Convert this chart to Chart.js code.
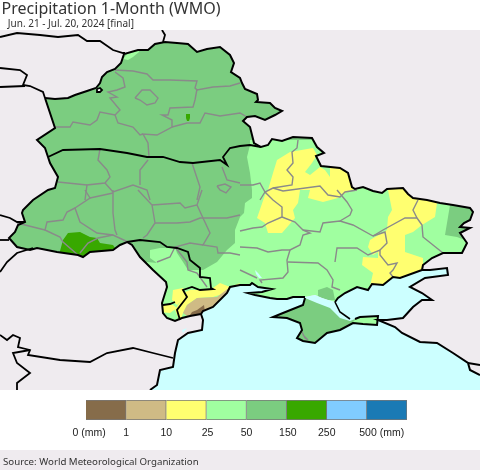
<!DOCTYPE html>
<html lang="en">
<head>
  <meta charset="UTF-8">
  <title>Precipitation 1-Month (WMO)</title>
  <script src="https://cdn.jsdelivr.net/npm/chart.js"></script>
  <style>
    html, body { margin: 0; background: #fff; }
    #page { position: relative; width: 480px; height: 470px; overflow: hidden; }
    #page canvas { position: absolute; left: 0; }
    #mapChart { top: 0; }
    #scaleChart { top: 390px; }
    #footerStrip { position: absolute; left: 0; top: 450px; width: 480px; height: 20px; background: #efebef; }
  </style>
</head>
<body>
<div id="page">
  <div id="footerStrip"></div>
  <canvas id="mapChart" width="480" height="390"></canvas>
  <canvas id="scaleChart" width="480" height="80"></canvas>
</div>

<script>
  // colour classes and their labels
  const binColors = ['#866c4a', '#cfbb85', '#ffff70', '#a0ffa0', '#7bcd80', '#38a800', '#80ccff', '#1a7ab5'];
  const binLabels = ['0 (mm)', '1', '10', '25', '50', '150', '250', '500 (mm)'];
  const binLabelAt = [0.08, 1, 2, 3.03, 4, 5.03, 6, 7.37];
  const binWidths = [1, 1, 1, 1, 1, 1, 1, 1];

  // map outlines, in map units
  const mapFrame = [[0,30],[480,30],[480,390],[0,390],[0,30]];
  const northBorder = [[45,98],[55,99],[68,98],[75,95],[87,91],[96,88],[100,83],[102,77],[107,72],[115,69],[121,63],[124,54],[138,50],[148,50],[155,44],[165,42],[177,43],[188,44],[197,52],[207,49],[220,47],[230,55],[234,63],[231,72],[240,78],[242,83],[245,89],[257,94],[258,100],[256,102],[270,103],[275,108],[282,111],[275,115],[265,120],[255,116],[247,117],[243,121],[250,127],[252,135],[254,143],[261,147],[268,145],[272,139],[282,141],[293,137],[312,138],[317,147],[324,153],[316,156],[321,166],[340,168],[348,173],[352,187],[355,189],[363,187],[373,191],[382,193],[387,189],[403,188],[408,194],[413,198],[427,200],[440,203],[453,205],[470,208],[473,212],[470,220],[464,223],[460,227],[470,228],[460,233],[467,243],[462,253],[443,253],[432,258],[423,265],[422,270]];
  const azovCoast = [[422,270],[400,278],[393,277],[383,285],[372,284],[368,290],[357,287],[345,293],[338,298],[335,302]];
  const sivashShore = [[335,302],[328,300],[322,298],[315,295],[305,297]];
  const blackSeaCoast = [[305,297],[293,297],[287,299],[277,299],[270,298],[255,295],[248,293],[262,292],[272,289],[258,287],[252,283],[250,285],[240,285],[230,287],[227,293],[213,307],[203,311],[201,314]];
  const southWestBorder = [[201,314],[190,316],[182,318],[175,321],[167,318],[163,313],[162,303],[167,287],[166,282],[153,270],[140,257],[132,245],[127,242],[120,245],[113,250],[90,252],[83,257],[78,255],[57,252],[47,250],[37,248],[30,250],[17,247],[9,238],[15,232],[18,225],[25,222],[22,213],[23,210],[33,200],[48,190],[55,188],[58,177],[50,163],[48,157],[45,148],[37,140],[55,128],[50,113],[45,98]];
  const romaniaCoast = [[201,314],[203,320],[202,330],[188,333],[178,340],[175,353],[173,367],[160,370],[157,385],[150,390]];
  const russiaCoast = [[480,375],[470,370],[468,363],[453,353],[437,343],[420,342],[402,333],[395,327],[378,320],[387,320],[403,318],[413,307],[422,300],[432,300],[422,293],[410,287],[425,278],[448,275],[447,268],[430,270],[422,270]];
  const crimeaCoast = [[355,319],[360,317],[378,316],[377,325],[363,324],[353,323],[340,330],[327,333],[315,343],[303,341],[297,338],[302,330],[300,323],[287,318],[273,317],[283,313],[303,305],[305,298]];
  const crimeaNorth = [[305,298],[317,303],[330,308],[340,318],[350,321],[355,319]];
  const arabatSpit = [[335,302],[340,312],[350,319]];
  const kerchPatch = [[353,322],[357,318],[378,316],[377,325],[363,324]];
  const borderLake = [[97,89],[100,88],[102,90],[100,92],[97,92],[97,89]];

  // precipitation patches
  const lightGreenArea = [[250,140],[250,145],[247,157],[250,173],[252,190],[252,198],[245,203],[244,213],[240,217],[235,230],[235,243],[227,250],[217,262],[203,270],[197,270],[188,270],[183,262],[177,253],[175,247],[170,248],[160,248],[150,250],[150,258],[157,263],[147,262],[140,270],[140,340],[480,340],[480,140]];
  const yellowNorth = [[277,160],[290,152],[313,148],[317,155],[312,163],[305,172],[310,175],[320,167],[325,170],[330,177],[330,168],[350,160],[365,180],[357,188],[347,192],[338,198],[323,202],[308,198],[310,190],[300,190],[298,203],[293,210],[295,218],[282,233],[268,233],[265,223],[257,218],[265,195],[268,190],[273,173]];
  const yellowEast = [[388,190],[392,210],[388,217],[387,230],[370,240],[368,247],[373,255],[378,252],[378,258],[363,257],[362,265],[373,273],[368,295],[423,280],[423,258],[405,252],[405,235],[413,232],[422,225],[435,217],[437,203],[427,197],[407,183],[388,183]];
  const yellowOdesa = [[185,292],[190,290],[210,290],[220,283],[230,287],[240,283],[235,290],[213,297],[197,298],[187,305],[183,313],[180,322],[175,310],[183,297]];
  const yellowPrut = [[173,290],[183,288],[185,297],[177,305],[172,300]];
  const yellowDelta = [[160,305],[173,305],[177,308],[170,313],[160,312]];
  const tanArea = [[230,287],[217,297],[197,298],[187,305],[183,313],[190,318],[200,310],[213,310],[230,295]];
  const brownArea = [[188,318],[192,312],[197,310],[204,305],[206,320]];
  const darkGreenCarpath = [[60,251],[63,240],[68,233],[80,232],[90,237],[97,238],[100,243],[113,245],[115,248],[100,256],[80,260],[60,256]];
  const darkGreenDot = [[186,114],[190,114],[190,118],[189,121],[187,121],[186,118]];
  const greenEast = [[450,205],[445,235],[457,237],[465,240],[480,225],[480,200]];
  const greenCoast = [[318,290],[327,287],[333,290],[335,300],[318,300]];
  const lightGreenSliver = [[123,59],[128,53],[138,50],[139,52],[133,57],[128,60]];
  const lagoon = [[182,330],[187,328],[183,333]];
  const kakhovka = [[255,270],[258,273],[262,278],[259,278],[256,274]];

  // neighbouring borders
  const otherBorders = [
    [[0,37],[17,33],[40,35],[58,37],[78,35],[87,41],[100,41],[113,50],[123,53],[125,53]],
    [[162,30],[165,35],[163,42]],
    [[0,68],[20,70],[27,75],[23,85],[30,86],[43,92],[45,98]],
    [[0,87],[25,86]],
    [[0,215],[10,218],[17,222],[25,222]],
    [[0,240],[9,240]],
    [[33,248],[17,253],[7,262],[0,272]],
    [[0,335],[7,340],[13,335],[20,338],[18,347],[30,350],[28,355],[60,360],[90,362],[107,353],[133,348],[153,353],[173,358]],
    [[30,350],[13,353],[17,363],[30,373],[17,383],[17,390]],
    [[468,363],[480,365]],
    [[48,157],[63,150],[100,149],[127,153],[147,157],[163,157],[180,162],[193,163],[220,160],[227,165],[223,157],[230,148],[240,146],[250,145],[261,147]],
    [[127,242],[140,240],[160,242],[167,247],[177,248],[188,252],[190,260],[200,268],[200,277],[210,278],[211,288],[213,289],[200,290],[192,287],[183,290],[187,297],[177,310],[180,320]],
    [[163,305],[170,304],[175,302]],
    borderLake
  ];

  // oblast lines
  const regionLines = [
    [[115,70],[133,71],[147,74],[153,80],[170,80],[197,81],[195,88],[197,90],[213,87],[230,86],[240,83]],
    [[197,89],[195,100],[193,107],[170,108],[168,115],[162,115],[172,120],[172,127],[157,135],[143,134],[148,143],[149,157]],
    [[172,127],[187,123],[200,123],[205,113],[220,116],[240,113],[247,117]],
    [[115,72],[123,78],[125,87],[117,90],[108,92],[117,97],[110,98],[120,110],[115,115],[100,112],[97,120],[90,125],[73,122],[70,127],[55,127]],
    [[115,115],[118,123],[133,127],[140,135],[143,134]],
    [[135,98],[142,90],[150,90],[158,98],[155,103],[147,105],[140,100],[135,98]],
    [[100,149],[98,160],[107,170],[110,177],[105,183],[87,185],[85,200]],
    [[58,182],[87,185]],
    [[105,183],[113,192],[133,185],[147,190],[150,200]],
    [[148,160],[140,170],[140,185]],
    [[192,163],[200,187],[197,200]],
    [[222,167],[227,180],[240,183]],
    [[217,186],[225,184],[231,187],[226,193],[220,190],[217,186]],
    [[85,190],[90,198],[75,208],[80,222],[97,233],[113,235],[128,242]],
    [[113,190],[113,213],[115,230],[117,235]],
    [[90,198],[113,193]],
    [[138,190],[152,205],[155,223],[147,235],[143,238]],
    [[152,205],[180,203],[185,208],[197,205],[202,190]],
    [[155,223],[177,223],[190,222],[200,218],[203,218]],
    [[197,205],[203,218],[210,233],[203,245],[217,247],[218,253],[230,253],[240,255]],
    [[203,218],[227,218],[240,215]],
    [[203,245],[190,243],[175,247],[170,257],[157,262]],
    [[75,208],[67,212],[63,220],[47,222],[45,230],[60,237],[63,242],[78,255]],
    [[17,223],[45,230]],
    [[80,253],[88,243],[98,238],[113,235]],
    [[175,247],[187,262],[188,270],[197,273],[207,287]],
    [[298,140],[297,148],[292,152],[293,163],[287,170],[293,177],[292,185],[273,188],[265,192],[260,200]],
    [[240,185],[253,185],[260,183],[265,192],[273,200],[282,207],[282,217],[268,223],[262,227],[253,228],[240,231]],
    [[273,188],[283,191],[320,186],[328,195],[340,197],[345,192],[357,190]],
    [[282,217],[295,222],[303,230],[320,232],[323,223],[340,221],[353,225],[373,236],[383,230],[405,218],[417,218],[413,210],[418,200]],
    [[417,218],[422,225],[423,237],[433,245],[443,253]],
    [[337,190],[347,202],[352,210],[350,215],[340,221]],
    [[303,230],[310,233],[303,235],[300,245],[290,250],[282,250],[268,252],[257,248],[240,247]],
    [[290,250],[287,260],[288,272],[283,278],[260,280],[262,283]],
    [[240,270],[257,278]],
    [[288,262],[318,263],[327,270],[333,280],[332,287],[340,290]],
    [[335,262],[337,248],[357,248],[368,255],[380,250],[380,255],[388,265],[397,263],[393,270],[390,273],[393,277]],
    [[380,250],[387,243],[385,232],[373,236]],
    [[302,332],[305,338],[308,340],[303,335]]
  ];

  const landGrey = '#efebef';
  const seaColor = '#ccffff';
  const regionGrey = '#8a8a8a';

  function area(points, color) {
    return { data: points, showLine: true, fill: 'shape', backgroundColor: color, borderWidth: 0, pointRadius: 0 };
  }
  function stroke(points, color, width) {
    return { data: points, showLine: true, fill: false, borderColor: color, borderWidth: width, pointRadius: 0 };
  }

  const mainlandRing = [...northBorder, ...azovCoast, ...sivashShore, ...blackSeaCoast, ...southWestBorder];
  const outsideLand = [...mapFrame, ...mainlandRing.slice().reverse()];
  const seaArea = [
    ...romaniaCoast, [480,390], ...russiaCoast,
    ...azovCoast, ...sivashShore, ...blackSeaCoast
  ];

  // painted in this order, bottom first
  const layers = [
    area(mapFrame, binColors[4]),
    area(lightGreenArea, binColors[3]),
    area(yellowNorth, binColors[2]),
    area(yellowEast, binColors[2]),
    area(yellowOdesa, binColors[2]),
    area(yellowPrut, binColors[2]),
    area(yellowDelta, binColors[2]),
    area(tanArea, binColors[1]),
    area(brownArea, binColors[0]),
    area(darkGreenCarpath, binColors[5]),
    area(darkGreenDot, binColors[5]),
    area(greenEast, binColors[4]),
    area(greenCoast, binColors[4]),
    area(lightGreenSliver, binColors[3]),
    area(outsideLand, landGrey),
    area(seaArea, seaColor),
    area(lagoon, seaColor),
    area(kakhovka, seaColor),
    area([...crimeaCoast, ...crimeaNorth], binColors[4]),
    area(kerchPatch, binColors[3]),
    area(borderLake, '#fff'),
    ...regionLines.map(l => stroke(l, regionGrey, 1.4)),
    ...otherBorders.map(l => stroke(l, '#000', 1.8)),
    stroke(northBorder, '#000', 2),
    stroke(azovCoast, '#000', 2),
    stroke(blackSeaCoast, '#000', 2),
    stroke(southWestBorder, '#000', 2),
    stroke(romaniaCoast, '#000', 2),
    stroke(russiaCoast, '#000', 2),
    stroke(crimeaCoast, '#000', 2),
    stroke(arabatSpit, '#000', 1.6)
  ];

  new Chart(document.getElementById('mapChart'), {
    type: 'scatter',
    data: { datasets: layers.reverse() },
    options: {
      responsive: false,
      animation: false,
      events: [],
      layout: { padding: 0 },
      scales: {
        x: { type: 'linear', display: false, min: 0, max: 480 },
        y: { type: 'linear', display: false, min: 30, max: 390, reverse: true }
      },
      plugins: {
        legend: { display: false },
        tooltip: { enabled: false },
        title: {
          display: true,
          text: '\u200APrecipitation 1-Month (WMO)',
          align: 'start',
          color: '#333',
          padding: 0,
          font: { family: 'Noto Sans', size: 16, weight: 'normal', lineHeight: '18px' }
        },
        subtitle: {
          display: true,
          text: '   Jun. 21 - Jul. 20, 2024 [final]',
          align: 'start',
          color: '#333',
          padding: 0,
          font: { family: 'Noto Sans', size: 10, weight: 'normal', lineHeight: '12px' }
        }
      }
    }
  });

  new Chart(document.getElementById('scaleChart'), {
    type: 'bar',
    data: {
      labels: [''],
      datasets: binColors.map((c, i) => ({
        data: [binWidths[i]],
        backgroundColor: c,
        borderColor: '#777',
        borderWidth: 1,
        barPercentage: 1,
        categoryPercentage: 1
      }))
    },
    options: {
      indexAxis: 'y',
      responsive: false,
      animation: false,
      events: [],
      layout: { padding: { top: 10, right: 73, left: 3 } },
      scales: {
        x: {
          type: 'linear',
          stacked: true,
          min: 0,
          max: 8,
          grid: { display: false },
          border: { display: false },
          afterBuildTicks: s => { s.ticks = binLabelAt.map(v => ({ value: v })); },
          afterFit: s => { s.height = 30; },
          ticks: {
            autoSkip: false,
            maxRotation: 0,
            color: '#222',
            padding: -1,
            font: { family: 'Liberation Sans', size: 10.5 },
            callback: (v, i) => binLabels[i]
          }
        },
        y: {
          stacked: true,
          grid: { display: false },
          border: { display: false },
          ticks: { display: false },
          afterFit: s => { s.width = 83; }
        }
      },
      plugins: {
        legend: { display: false },
        tooltip: { enabled: false },
        title: {
          display: true,
          position: 'bottom',
          text: 'Source: World Meteorological Organization',
          align: 'start',
          color: '#333',
          padding: { top: 6, bottom: 2 },
          font: { family: 'Noto Sans', size: 9.7, weight: 'normal', lineHeight: '12px' }
        }
      }
    }
  });
</script>
</body>
</html>
